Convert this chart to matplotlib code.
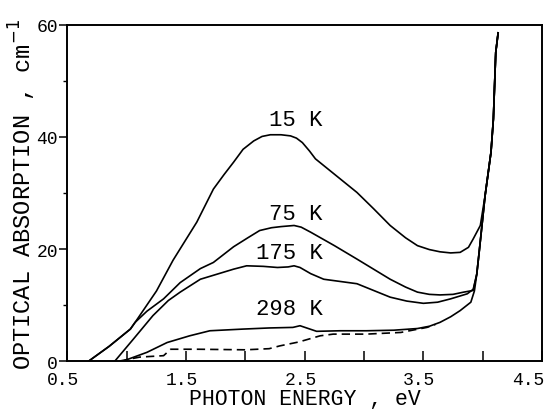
import matplotlib
matplotlib.use("Agg")
import matplotlib.pyplot as plt
from matplotlib.transforms import ScaledTranslation

# Absorption spectra (eV, cm^-1)
x_15k = [0.68, 0.85, 1.03, 1.07, 1.25, 1.39, 1.59, 1.73, 1.82, 1.90, 1.98, 2.07,
         2.14, 2.21, 2.30, 2.38, 2.43, 2.48, 2.54, 2.59, 2.66, 2.80, 2.94, 3.08,
         3.22, 3.35, 3.45, 3.55, 3.64, 3.73, 3.81, 3.88, 3.92, 3.98, 4.02, 4.07,
         4.09, 4.11, 4.13]
y_15k = [0.0, 2.6, 5.7, 6.9, 12.5, 18.0, 24.8, 30.7, 33.3, 35.5, 37.8, 39.3,
         40.1, 40.4, 40.4, 40.2, 39.8, 39.0, 37.5, 36.1, 34.9, 32.5, 30.1, 27.2,
         24.2, 22.0, 20.6, 19.9, 19.5, 19.3, 19.4, 20.3, 21.8, 24.2, 29.5, 37.3,
         43.2, 55.1, 58.6]

x_75k = [0.68, 0.85, 1.03, 1.07, 1.17, 1.31, 1.45, 1.62, 1.73, 1.90, 2.02, 2.12,
         2.22, 2.30, 2.41, 2.47, 2.55, 2.65, 2.75, 2.94, 3.08, 3.22, 3.35, 3.45,
         3.55, 3.64, 3.75, 3.84, 3.92, 3.95, 3.97, 4.02, 4.07, 4.09, 4.11, 4.13]
y_75k = [0.0, 2.6, 5.7, 6.9, 8.9, 11.1, 14.0, 16.5, 17.6, 20.4, 22.0, 23.3,
         23.8, 24.0, 24.2, 23.9, 23.0, 21.8, 20.6, 18.2, 16.4, 14.6, 13.2, 12.3,
         11.9, 11.8, 11.9, 12.3, 12.6, 15.5, 19.4, 29.5, 37.3, 43.2, 55.1, 58.6]

x_175k = [0.90, 1.055, 1.22, 1.35, 1.45, 1.62, 1.76, 1.90, 2.01, 2.15, 2.27, 2.36,
          2.41, 2.46, 2.55, 2.66, 2.80, 2.94, 3.08, 3.22, 3.36, 3.50, 3.62, 3.73,
          3.87, 3.92, 3.95, 3.97, 4.02, 4.07, 4.09, 4.11, 4.13]
y_175k = [0.0, 3.9, 8.1, 10.8, 12.3, 14.6, 15.5, 16.4, 17.0, 16.9, 16.7, 16.8,
          17.0, 16.7, 15.6, 14.6, 14.2, 13.8, 12.6, 11.4, 10.7, 10.3, 10.5, 11.1,
          12.0, 12.8, 15.5, 19.4, 29.5, 37.3, 43.2, 55.1, 58.6]

x_298k = [0.97, 1.17, 1.34, 1.53, 1.70, 1.98, 2.20, 2.40, 2.46, 2.53, 2.60, 2.80,
          3.02, 3.25, 3.45, 3.55, 3.64, 3.73, 3.81, 3.90, 3.93, 3.95, 3.97, 4.02,
          4.07, 4.09, 4.11, 4.13]
y_298k = [0.0, 1.55, 3.3, 4.5, 5.4, 5.7, 5.9, 6.0, 6.3, 5.8, 5.3, 5.4,
          5.4, 5.5, 5.8, 6.2, 6.9, 7.9, 9.0, 10.5, 12.5, 15.5, 19.4, 29.5,
          37.3, 43.2, 55.1, 58.6]

x_dash = [0.94, 1.11, 1.31, 1.37, 1.60, 2.00, 2.20, 2.29, 2.45, 2.63, 2.74, 3.02,
          3.31, 3.53, 3.60]
y_dash = [0.0, 0.7, 0.95, 2.1, 2.1, 2.0, 2.2, 2.7, 3.4, 4.5, 4.8, 4.8,
          5.1, 6.0, 6.5]

labels = ["15 K", "75 K", "175 K", "298 K"]
label_y = [43.2, 26.4, 19.3, 9.3]

x_major = [0.5, 1.5, 2.5, 3.5, 4.5]
x_minor = [1.0, 2.0, 3.0, 4.0]
y_major = [0, 20, 40, 60]
y_minor = [10, 30, 50]

mono = "Liberation Mono"

fig = plt.figure(figsize=(5.55, 4.14), dpi=100)
ax = fig.add_axes([0.1216, 0.1256, 0.8550, 0.8116])

for xs, ys in [(x_15k, y_15k), (x_75k, y_75k), (x_175k, y_175k), (x_298k, y_298k)]:
    ax.plot(xs, ys, color="black", lw=1.2)
ax.plot(x_dash, y_dash, color="black", lw=1.2, linestyle=(0, (5, 3)))

for lab, ly in zip(labels, label_y):
    ax.text(2.65, ly, lab, ha="right", va="center", fontsize=16, family=mono)

ax.set_xlim(0.5, 4.5)
ax.set_ylim(0, 60)
ax.set_xticks(x_major)
ax.set_xticklabels([f"{v:.1f}" for v in x_major])
ax.set_xticks(x_minor, minor=True)
ax.set_yticks(y_major)
ax.set_yticks(y_minor, minor=True)
ax.tick_params(axis="x", which="both", direction="in", length=7, width=1.1,
               pad=7.5, labelsize=13)
ax.tick_params(axis="y", which="major", direction="out", length=6, width=1.1,
               pad=1, labelsize=13)
ax.tick_params(axis="y", which="minor", direction="out", length=3, width=1.0)
for lbl in ax.get_xticklabels() + ax.get_yticklabels():
    lbl.set_family(mono)

# nudge x tick labels a little left, the last one more so it stays inside
xlbls = ax.get_xticklabels()
for i, lbl in enumerate(xlbls):
    dx = -10 / 72 if i == len(xlbls) - 1 else -3 / 72
    lbl.set_transform(lbl.get_transform() + ScaledTranslation(dx, 0, fig.dpi_scale_trans))

for sp in ax.spines.values():
    sp.set_linewidth(1.4)

ax.set_xlabel("PHOTON ENERGY , eV", family=mono, fontsize=15.5, labelpad=0)
ax.set_ylabel("OPTICAL ABSORPTION , cm$^{-1}$", family=mono, fontsize=17,
              labelpad=-1)

fig.savefig("out.png", dpi=100)
